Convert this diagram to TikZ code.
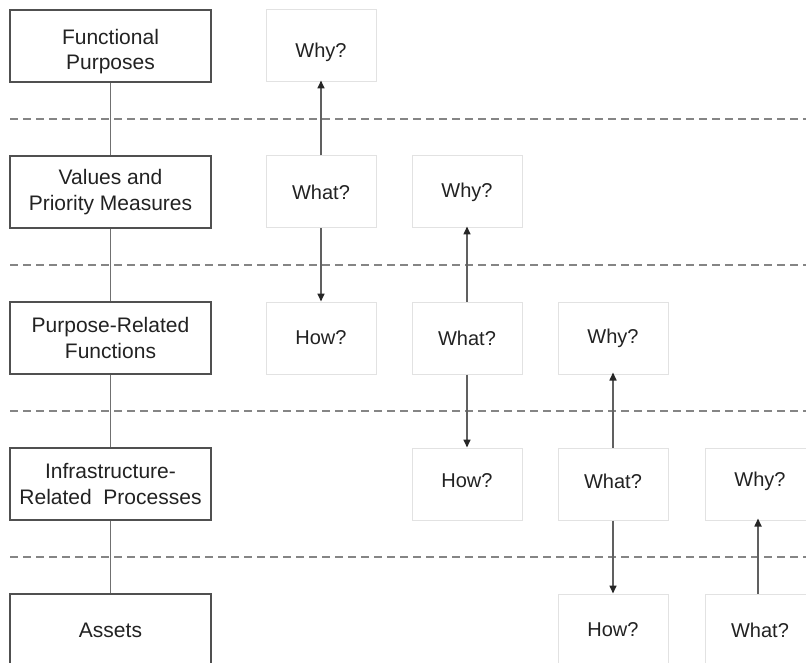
\documentclass[tikz,border=0pt]{standalone}
\usepackage{fontspec}
\setmainfont{Liberation Sans}
\usetikzlibrary{arrows.meta}
\definecolor{boxline}{HTML}{505050}
\definecolor{faint}{HTML}{E2E2E2}
\definecolor{dashc}{HTML}{858585}
\definecolor{linkc}{HTML}{707070}
\definecolor{arrc}{HTML}{606060}
\definecolor{txt}{HTML}{222222}
\begin{document}
\begin{tikzpicture}[x=1pt,y=-1pt,
  levelbox/.style={draw=boxline,line width=1.7pt,fill=white,minimum width=201pt,minimum height=72pt,inner sep=0pt,align=center,text=txt,font=\fontsize{21}{25.5}\selectfont},
  qbox/.style={draw=faint,line width=1pt,fill=white,minimum width=110pt,minimum height=72pt,inner sep=0pt,align=center,text=txt,font=\fontsize{20}{24}\selectfont},
  ltext/.style={inner sep=0pt,align=center,text=txt,font=\fontsize{21}{25.5}\selectfont},
  qtext/.style={inner sep=0pt,align=center,text=txt,font=\fontsize{20}{24}\selectfont},
  sep/.style={draw=dashc,line width=1.4pt,dash pattern=on 8pt off 5pt},
  link/.style={draw=linkc,line width=1.4pt},
  qarrow/.style={draw=arrc,line width=1.6pt,-{Triangle[length=8pt,width=7pt,color=black!85]}}]
\useasboundingbox (0,0) rectangle (806,663);
\clip (0,0) rectangle (806,663);
% dashed separators
\foreach \y in {119,265,411,557} \draw[sep] (10,\y) -- (806,\y);
% left level boxes
\node[levelbox] (L1) at (110.5,46) {};
\node[ltext] (L1t) at (110.5,51.5) {Functional\\Purposes};
\node[levelbox] (L2) at (110.5,192) {Values and\\Priority Measures};
\node[levelbox] (L3) at (110.5,338) {Purpose-Related\\Functions};
\node[levelbox] (L4) at (110.5,484) {Infrastructure-\\Related\ \ Processes};
\node[levelbox] (L5) at (110.5,630) {Assets};
\draw[link] (L1) -- (L2);
\draw[link] (L2) -- (L3);
\draw[link] (L3) -- (L4);
\draw[link] (L4) -- (L5);
% question boxes
\node[qbox] (W1) at (321,46) {};
\node[qtext] (W1t) at (321,52) {Why?};
\node[qbox] (A1) at (321,192) {What?};
\node[qbox] (H1) at (321,338) {How?};
\node[qbox] (W2) at (467,192) {Why?};
\node[qbox] (A2) at (467,338) {What?};
\node[qbox] (H2) at (467,484) {};
\node[qtext] (H2t) at (467,481) {How?};
\node[qbox] (W3) at (613,338) {Why?};
\node[qbox] (A3) at (613,484) {};
\node[qtext] (A3t) at (613,481) {What?};
\node[qbox] (H3) at (613,630) {How?};
\node[qbox] (W4) at (760,484) {};
\node[qtext] (W4t) at (760,481) {Why?};
\node[qbox] (A4) at (760,630) {What?};
% arrows
\draw[qarrow] (A1.north) -- ([yshift=2pt]W1.south);
\draw[qarrow] (A1.south) -- (H1.north);
\draw[qarrow] (A2.north) -- ([yshift=2pt]W2.south);
\draw[qarrow] (A2.south) -- (H2.north);
\draw[qarrow] (A3.north) -- ([yshift=2pt]W3.south);
\draw[qarrow] (A3.south) -- (H3.north);
\draw[qarrow] ([xshift=-2pt]A4.north) -- ([xshift=-2pt,yshift=2pt]W4.south);
\end{tikzpicture}
\end{document}
